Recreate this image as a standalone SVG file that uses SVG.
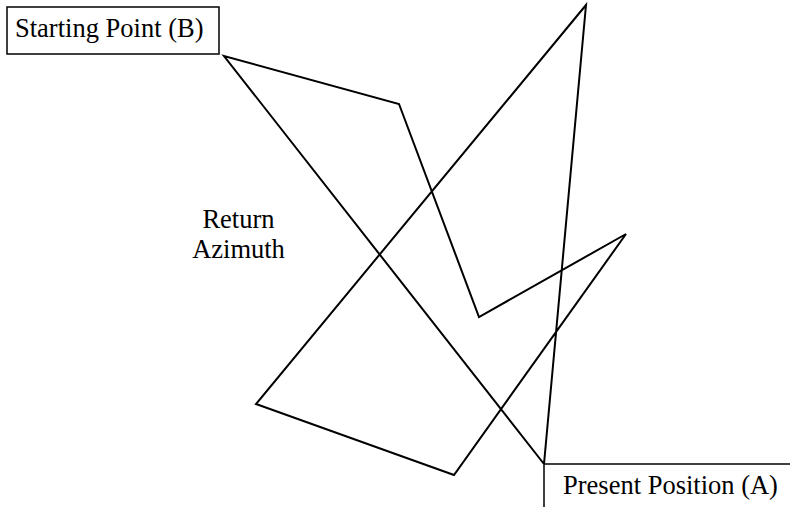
<svg xmlns="http://www.w3.org/2000/svg" width="790" height="507" viewBox="0 0 790 507">
<style>
.ln{fill:none;stroke:#000;stroke-width:2;stroke-linejoin:miter}
</style>
<rect width="790" height="507" fill="#fff"/>
<g id="connectors">
<polyline class="ln" points="544,464 224,56 399,104 479,317 626,234 454,475 256,404 586,5 544,464"/>
</g>
<g font-family="'Liberation Serif', 'DejaVu Serif', serif" font-size="26.5" fill="#000">
<g id="start">
<rect x="7" y="7" width="212" height="47" fill="none" stroke="#000" stroke-width="1.5"/>
<text x="15" y="37">Starting Point (B)</text>
</g>
<g id="label">
<text x="238.5" y="228" text-anchor="middle">Return</text>
<text x="238.5" y="258" text-anchor="middle">Azimuth</text>
</g>
<g id="present">
<path d="M544,464H790M544,464V507" fill="none" stroke="#000" stroke-width="1.5"/>
<text x="563" y="494">Present Position (A)</text>
</g>
</g>
</svg>
